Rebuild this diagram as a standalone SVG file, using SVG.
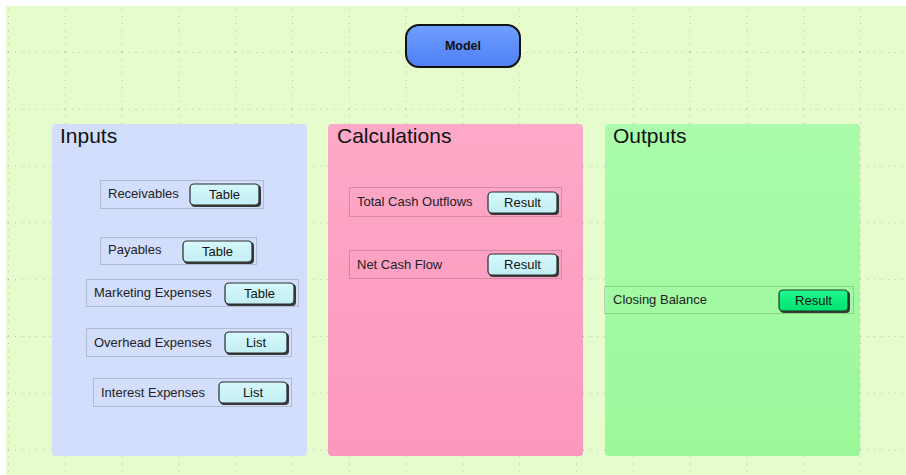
<svg xmlns="http://www.w3.org/2000/svg" width="906" height="475" viewBox="0 0 906 475">
  <defs>
    <pattern id="grid" x="8" y="-4.8" width="56.8" height="56.8" patternUnits="userSpaceOnUse">
      <line x1="0.5" y1="0" x2="0.5" y2="56.8" stroke="#b4c0a8" stroke-width="1" stroke-dasharray="1 6"/>
      <line x1="0" y1="0.5" x2="56.8" y2="0.5" stroke="#b4c0a8" stroke-width="1" stroke-dasharray="1 6"/>
    </pattern>
    <linearGradient id="gModel" x1="0" y1="0" x2="0" y2="1">
      <stop offset="0" stop-color="#6f9fff"/>
      <stop offset="1" stop-color="#4f7ff5"/>
    </linearGradient>
    <linearGradient id="gCalc" x1="0" y1="0" x2="0" y2="1">
      <stop offset="0" stop-color="#fda9c8"/>
      <stop offset="1" stop-color="#fd97bd"/>
    </linearGradient>
    <linearGradient id="gOut" x1="0" y1="0" x2="0" y2="1">
      <stop offset="0" stop-color="#aafcaa"/>
      <stop offset="1" stop-color="#9af89a"/>
    </linearGradient>
    <linearGradient id="gBtn" x1="0" y1="0" x2="0" y2="1">
      <stop offset="0" stop-color="#d6f8fb"/>
      <stop offset="1" stop-color="#c2eef4"/>
    </linearGradient>
    <linearGradient id="gRes" x1="0" y1="0" x2="0" y2="1">
      <stop offset="0" stop-color="#20f890"/>
      <stop offset="1" stop-color="#00e070"/>
    </linearGradient>
  </defs>
  <style>
    .panel-title { font-family: "Liberation Sans", Arial, sans-serif; font-size: 21px; fill: #111; }
    .label { font-family: "Liberation Sans", Arial, sans-serif; font-size: 13px; fill: #222; }
    .btn-text { font-family: "Liberation Sans", Arial, sans-serif; font-size: 13px; fill: #111; text-anchor: middle; }
    .item { fill-opacity: 0; stroke: #000; stroke-opacity: 0.16; stroke-width: 1; }
    .btn { fill: url(#gBtn); stroke: #2a2a2a; stroke-width: 1.2; }
    .btn-res { fill: url(#gRes); stroke: #1c3a24; stroke-width: 1.2; }
    .btn-shadow { fill: #3a3a3a; }
  </style>

  <!-- canvas -->
  <rect x="0" y="0" width="906" height="475" fill="#ffffff"/>
  <rect x="6" y="6" width="900" height="469" fill="#e6fccc"/>
  <rect x="6" y="6" width="900" height="469" fill="url(#grid)"/>

  <!-- top node -->
  <g id="model">
    <rect x="406" y="25" width="114" height="42" rx="13" fill="url(#gModel)" stroke="#111" stroke-width="2"/>
    <text x="463" y="50" text-anchor="middle" font-family="'Liberation Sans', Arial, sans-serif" font-size="12.5" font-weight="bold" fill="#111">Model</text>
  </g>

  <!-- sections -->
  <g id="inputs">
    <rect x="52" y="124" width="255" height="332" rx="4" fill="#d2defc"/>
    <text class="panel-title" x="60" y="143">Inputs</text>
  </g>
  <g id="calculations">
    <rect x="328" y="124" width="255" height="332" rx="4" fill="url(#gCalc)"/>
    <text class="panel-title" x="337" y="143">Calculations</text>
  </g>
  <g id="outputs">
    <rect x="605" y="124" width="255" height="332" rx="4" fill="url(#gOut)"/>
    <text class="panel-title" x="613" y="143">Outputs</text>
  </g>

  <!-- input items -->
  <g id="receivables">
    <rect class="item" x="100.5" y="180.5" width="163" height="28"/>
    <text class="label" x="108" y="198">Receivables</text>
    <rect class="btn-shadow" x="191" y="185" width="70" height="22" rx="4"/>
    <rect class="btn" x="190" y="184" width="69" height="21" rx="4"/>
    <text class="btn-text" x="224.5" y="199">Table</text>
  </g>
  <g id="payables">
    <rect class="item" x="100.5" y="237.5" width="156" height="27"/>
    <text class="label" x="108" y="254">Payables</text>
    <rect class="btn-shadow" x="184" y="242" width="70" height="22" rx="4"/>
    <rect class="btn" x="183" y="241" width="69" height="21" rx="4"/>
    <text class="btn-text" x="217.5" y="256">Table</text>
  </g>
  <g id="marketing-expenses">
    <rect class="item" x="86.5" y="279.5" width="212" height="27"/>
    <text class="label" x="94" y="297">Marketing Expenses</text>
    <rect class="btn-shadow" x="226" y="284" width="70" height="22" rx="4"/>
    <rect class="btn" x="225" y="283" width="69" height="21" rx="4"/>
    <text class="btn-text" x="259.5" y="298">Table</text>
  </g>
  <g id="overhead-expenses">
    <rect class="item" x="86.5" y="328.5" width="205" height="28"/>
    <text class="label" x="94" y="347">Overhead Expenses</text>
    <rect class="btn-shadow" x="226" y="333" width="63" height="22" rx="4"/>
    <rect class="btn" x="225" y="332" width="62" height="21" rx="4"/>
    <text class="btn-text" x="256" y="347">List</text>
  </g>
  <g id="interest-expenses">
    <rect class="item" x="93.5" y="378.5" width="198" height="28"/>
    <text class="label" x="101" y="397">Interest Expenses</text>
    <rect class="btn-shadow" x="220" y="383" width="69" height="22" rx="4"/>
    <rect class="btn" x="219" y="382" width="68" height="21" rx="4"/>
    <text class="btn-text" x="253" y="397">List</text>
  </g>

  <!-- calculation items -->
  <g id="total-cash-outflows">
    <rect class="item" x="349.5" y="187.5" width="212" height="29"/>
    <text class="label" x="357" y="206">Total Cash Outflows</text>
    <rect class="btn-shadow" x="489" y="193" width="70" height="22" rx="4"/>
    <rect class="btn" x="488" y="192" width="69" height="21" rx="4"/>
    <text class="btn-text" x="522.5" y="207">Result</text>
  </g>
  <g id="net-cash-flow">
    <rect class="item" x="349.5" y="250.5" width="212" height="28"/>
    <text class="label" x="357" y="269">Net Cash Flow</text>
    <rect class="btn-shadow" x="489" y="255" width="70" height="22" rx="4"/>
    <rect class="btn" x="488" y="254" width="69" height="21" rx="4"/>
    <text class="btn-text" x="522.5" y="269">Result</text>
  </g>

  <!-- output items -->
  <g id="closing-balance">
    <rect class="item" x="604.5" y="286.5" width="249" height="27"/>
    <text class="label" x="613" y="304">Closing Balance</text>
    <rect class="btn-shadow" x="780" y="291" width="70" height="22" rx="4"/>
    <rect class="btn-res" x="779" y="290" width="69" height="21" rx="4"/>
    <text class="btn-text" x="813.5" y="305">Result</text>
  </g>
</svg>
